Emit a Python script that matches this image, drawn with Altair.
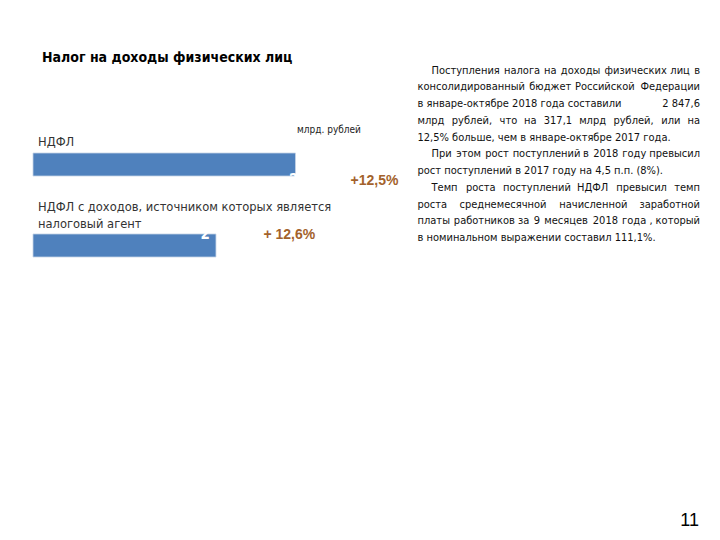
import altair as alt
import pandas as pd

# ---------------- data ----------------
categories = ["НДФЛ", "НДФЛ с доходов, источником которых является налоговый агент"]
values = [2847.6, 1985.0]
value_labels = ["2", "2"]
growth_labels = ["+12,5%", "+ 12,6%"]
title_text = "Налог на доходы физических лиц"
unit_text = "млрд. рублей"
cat_label_lines = ["НДФЛ", "НДФЛ с доходов, источником которых является", "налоговый агент"]
page_number = "11"
# (text, indent, justify); "|" separates the chunks that are spread to the full width
paragraph_lines = [
    ("Поступления|налога|на|доходы|физических|лиц|в", True, True),
    ("консолидированный|бюджет|Российской|Федерации", False, True),
    ("в январе-октябре 2018 года составили|2 847,6", False, True),
    ("млрд|рублей,|что|на|317,1|млрд|рублей,|или|на", False, True),
    ("12,5% больше, чем в январе-октябре  2017 года.", False, False),
    ("При|этом|рост|поступлений|в|2018|году|превысил", True, True),
    ("рост поступлений в 2017 году на 4,5 п.п. (8%).", False, False),
    ("Темп|роста|поступлений|НДФЛ|превысил|темп", True, True),
    ("роста|среднемесячной|начисленной|заработной", False, True),
    ("платы|работников|за|9|месяцев|2018|года|,|который", False, True),
    ("в номинальном выражении составил 111,1%.", False, False),
]

NARROW = "DejaVu Sans Condensed, Liberation Sans Narrow, sans-serif"
REG = "Liberation Sans, Arial, sans-serif"
BAR_COLOR = "#4f81bd"
GROWTH_COLOR = "#a3622b"

# approximate Arial advance widths (1/1000 em), used with a factor for the condensed font
_w = {
    " ": 278, "\u00a0": 278, ",": 278, ".": 278, "-": 333, "%": 889, "(": 333, ")": 333, "+": 584,
    "А": 667, "Б": 656, "В": 667, "Г": 542, "Д": 677, "Е": 667, "Ж": 923, "З": 604, "И": 719,
    "Й": 719, "К": 583, "Л": 656, "М": 833, "Н": 722, "О": 778, "П": 719, "Р": 667, "С": 722,
    "Т": 611, "У": 635, "Ф": 760, "Х": 667, "Ц": 740, "Ч": 667, "Ш": 917, "Щ": 938, "Ъ": 792,
    "Ы": 885, "Ь": 656, "Э": 719, "Ю": 1010, "Я": 722,
    "а": 556, "б": 573, "в": 531, "г": 365, "д": 583, "е": 556, "ё": 556, "ж": 669, "з": 458,
    "и": 559, "й": 559, "к": 438, "л": 583, "м": 688, "н": 552, "о": 556, "п": 542, "р": 556,
    "с": 500, "т": 458, "у": 500, "ф": 823, "х": 500, "ц": 573, "ч": 521, "ш": 802, "щ": 823,
    "ъ": 625, "ы": 719, "ь": 521, "э": 510, "ю": 750, "я": 542,
}


def text_width(s, size, factor=1.02):
    return sum(_w.get(ch, 556) for ch in s) / 1000.0 * size * factor


# ---------------- paragraph layout (justified) ----------------
P_SIZE = 11
P_LEFT, P_INDENT, P_RIGHT = 417.5, 431.5, 700.0
P_TOP, P_STEP = 73.5, 16.75
rows = []
for i, (line, indent, justify) in enumerate(paragraph_lines):
    left = P_INDENT if indent else P_LEFT
    y = P_TOP + P_STEP * i
    if not justify:
        rows.append({"t": line, "px": left, "py": y, "anchor": "l"})
        continue
    words = line.split("|")
    widths = [text_width(w, P_SIZE) for w in words]
    gap = (P_RIGHT - left - sum(widths)) / (len(words) - 1)
    x = left
    for j, (wd, ww) in enumerate(zip(words, widths)):
        if j == len(words) - 1:
            rows.append({"t": wd, "px": P_RIGHT, "py": y, "anchor": "r"})
        else:
            rows.append({"t": wd, "px": x, "py": y, "anchor": "l"})
        x += ww + gap
para_df = pd.DataFrame(rows)

bars_df = pd.DataFrame({"cat": categories, "value": values, "vlabel": value_labels,
                        "growth": growth_labels})

xscale = alt.Scale(domain=[0, values[0]], range=[33, 295.5])
yscale = alt.Scale(domain=categories, range=[153, 257], paddingInner=0.716, paddingOuter=0)

base = alt.Chart(bars_df)
X = alt.X("value:Q", scale=xscale, axis=None)
Y = alt.Y("cat:N", scale=yscale, axis=None, sort=categories)

bars = base.mark_bar(color=BAR_COLOR, stroke="#c5d3e6", strokeWidth=0.8).encode(x=X, y=Y)

lab1 = base.transform_filter(alt.datum.cat == categories[0]).mark_text(
    align="right", baseline="alphabetic", dx=3, dy=6, font=NARROW, fontSize=15,
    fontWeight="bold", color="white"
).encode(x=X, y=Y, text="vlabel:N")
lab2 = base.transform_filter(alt.datum.cat == categories[1]).mark_text(
    align="right", baseline="alphabetic", dx=-6, dy=8, font=NARROW, fontSize=15,
    fontWeight="bold", color="white"
).encode(x=X, y=Y, text="vlabel:N")

g1 = base.transform_filter(alt.datum.cat == categories[0]).mark_text(
    align="left", baseline="alphabetic", dx=55, dy=6, font=REG, fontSize=14,
    fontWeight="bold", color=GROWTH_COLOR
).encode(x=X, y=Y, text="growth:N")
g2 = base.transform_filter(alt.datum.cat == categories[1]).mark_text(
    align="left", baseline="alphabetic", dx=47.5, dy=8, font=REG, fontSize=14,
    fontWeight="bold", color=GROWTH_COLOR
).encode(x=X, y=Y, text="growth:N")


def ann(text, x, y, size, font=NARROW, weight="normal", color="#000000", align="left"):
    return alt.Chart(pd.DataFrame({"t": [text]})).mark_text(
        align=align, baseline="alphabetic", font=font, fontSize=size, fontWeight=weight,
        color=color
    ).encode(x=alt.value(x), y=alt.value(y), text="t:N")


title = ann(title_text, 42, 61.5, 14, weight="bold")
unit = ann(unit_text, 297, 133, 10, color="#222222")
c1 = ann(cat_label_lines[0], 38, 146, 12.8, color="#333333")
c2 = ann(cat_label_lines[1], 38, 211, 12.8, color="#333333")
c3 = ann(cat_label_lines[2], 38, 228, 12.8, color="#333333")
page = ann(page_number, 699, 526, 18, font=REG, color="#000000", align="right")

PX = alt.X("px:Q", scale=None, axis=None)
PY = alt.Y("py:Q", scale=None, axis=None)
para_l = alt.Chart(para_df).transform_filter(alt.datum.anchor == "l").mark_text(
    align="left", baseline="alphabetic", font=NARROW, fontSize=P_SIZE, color="#111111"
).encode(x=PX, y=PY, text="t:N")
para_r = alt.Chart(para_df).transform_filter(alt.datum.anchor == "r").mark_text(
    align="right", baseline="alphabetic", font=NARROW, fontSize=P_SIZE, color="#111111"
).encode(x=PX, y=PY, text="t:N")

chart = alt.layer(
    bars, lab1, lab2, g1, g2, title, unit, c1, c2, c3, page, para_l, para_r
).resolve_scale(x="independent", y="independent").properties(
    width=720, height=540, autosize=alt.AutoSizeParams(type="none"), padding=0,
    background="white"
).configure_view(stroke=None)

chart.save("out.html", embed_options={"renderer": "svg", "actions": False})
